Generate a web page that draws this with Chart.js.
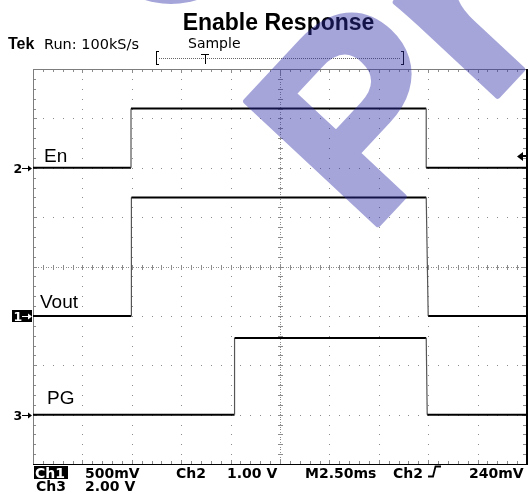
<!DOCTYPE html>
<html>
<head>
<meta charset="utf-8">
<title>Enable Response</title>
<script src="https://cdn.jsdelivr.net/npm/chart.js@4"></script>
<style>
  body { margin: 0; background: #fff; }
  canvas { display: block; }
</style>
</head>
<body>
<canvas id="scope" width="531" height="494"></canvas>
<script>
// traces: time in ms, level in volts
const enTimes   = [0, 4.96, 4.96, 19.9, 19.9, 25];
const enVolts   = [0, 0, 1.2, 1.2, 0, 0];
const voutTimes = [0, 4.98, 4.98, 19.9, 20.0, 25];
const voutVolts = [0, 0, 1.2, 1.2, 0, 0];
const pgTimes   = [0, 10.2, 10.2, 19.9, 19.95, 25];
const pgVolts   = [0, 0, 3.1, 3.1, 0, 0];

// channel setup: Ch1 = Vout, Ch2 = En, Ch3 = PG
const channels    = ['Ch1', 'Ch2', 'Ch3'];
const voltsPerDiv = [0.5, 1.0, 2.0];
const groundDiv   = [-1, 2, -3];      // ground marker, divisions from centre
const traceNames  = ['Vout', 'En', 'PG'];
const trigLevel   = 0.24;             // V on Ch2

const msPerDiv = 2.5;
const xDivs = 10, yDivs = 8;

// readout texts
const titleText  = 'Enable Response';
const runText    = 'Run: 100kS/s';
const acqText    = 'Sample';
const readoutRow1 = ['500mV', 'Ch2', '1.00 V', 'M2.50ms', 'Ch2', '240mV'];
const readoutRow2 = ['2.00 V'];

const SCOPE_FONT = '"DejaVu Sans"';
const SANS = '"Liberation Sans", Arial';

function chAxis(i) {
  return {
    axis: 'y', display: false,
    min: (-yDivs / 2 - groundDiv[i]) * voltsPerDiv[i],
    max: (yDivs / 2 - groundDiv[i]) * voltsPerDiv[i]
  };
}

function trace(times, volts, axisId) {
  return {
    data: times.map((t, i) => ({ x: t, y: volts[i] })),
    yAxisID: axisId,
    borderColor: '#000',
    borderWidth: 2,
    pointRadius: 0,
    tension: 0,
    segment: {
      // fast edges show up thin and grey on the scope
      borderColor: c => Math.abs(c.p1.parsed.x - c.p0.parsed.x) < 0.2 ? '#555' : undefined,
      borderWidth: c => Math.abs(c.p1.parsed.x - c.p0.parsed.x) < 0.2 ? 1.2 : undefined
    }
  };
}

const graticule = {
  id: 'graticule',
  beforeDatasetsDraw(chart) {
    const { ctx, chartArea: a, scales } = chart;
    const x = scales.x, d = scales.div;
    const px = t => Math.round(x.getPixelForValue(t));
    const py = v => Math.round(d.getPixelForValue(v));
    ctx.save();
    ctx.fillStyle = '#8c8c8c';
    const minorX = [], minorY = [];
    for (let j = 0; j <= xDivs * 5; j++) minorX.push(px(j * msPerDiv / 5));
    for (let j = 0; j <= yDivs * 5; j++) minorY.push(py(-yDivs / 2 + j / 5));

    // dotted major lines
    for (let k = 1; k < xDivs; k++) {
      if (k === xDivs / 2) continue;
      const gx = px(k * msPerDiv);
      minorY.slice(1, -1).forEach(yy => ctx.fillRect(gx, yy, 1, 1));
    }
    for (let k = 1; k < yDivs; k++) {
      if (k === yDivs / 2) continue;
      const gy = py(-yDivs / 2 + k);
      minorX.slice(1, -1).forEach(xx => ctx.fillRect(xx, gy, 1, 1));
    }

    // centre cross with ticks
    const cx = px(xDivs / 2 * msPerDiv), cy = py(0);
    for (let yy = a.top; yy < a.bottom; yy += 2.5) ctx.fillRect(cx, Math.round(yy), 1, 1);
    for (let xx = a.left; xx < a.right; xx += 2.5) ctx.fillRect(Math.round(xx), cy, 1, 1);
    minorY.forEach(yy => ctx.fillRect(cx - 2, yy, 5, 1));
    minorX.forEach(xx => ctx.fillRect(xx, cy - 2, 1, 5));

    // border ticks
    minorX.forEach((xx, j) => {
      const len = j % 5 === 0 ? 4 : 3;
      ctx.fillRect(xx, a.top, 1, len);
      ctx.fillRect(xx, a.bottom - len, 1, len);
    });
    minorY.forEach((yy, j) => {
      const len = j % 5 === 0 ? 4 : 3;
      ctx.fillRect(a.left, yy, len, 1);
      ctx.fillRect(a.right - len - 1, yy, len, 1);
    });
    ctx.fillRect(cx, a.top, 1, 7);

    // frame
    ctx.fillStyle = '#7d7d7d';
    ctx.fillRect(a.left, a.top, a.right - a.left, 1);
    ctx.fillRect(a.left, a.top, 1, a.bottom - a.top);
    ctx.fillStyle = '#000';
    ctx.fillRect(a.left, a.bottom, a.right - a.left + 1, 1);
    ctx.fillRect(a.right - 1, a.top, 2, a.bottom - a.top + 1);
    ctx.restore();
  }
};

const readouts = {
  id: 'readouts',
  afterDatasetsDraw(chart) {
    const { ctx, scales } = chart;
    ctx.save();
    ctx.fillStyle = '#000';
    ctx.strokeStyle = '#000';
    ctx.textBaseline = 'alphabetic';

    // title and header
    ctx.font = 'bold 23px ' + SANS;
    ctx.textAlign = 'center';
    ctx.fillText(titleText, 278.5, 30);
    ctx.textAlign = 'left';
    ctx.font = 'bold 16px ' + SANS;
    ctx.fillText('Tek', 8, 49);
    ctx.font = '14.5px ' + SCOPE_FONT;
    ctx.fillText(runText, 44, 49);
    ctx.font = '14px ' + SCOPE_FONT;
    ctx.fillText(acqText, 188, 48);

    // record bracket with trigger marker
    ctx.fillRect(156, 51, 1, 14);
    ctx.fillRect(156, 51, 3, 1);
    ctx.fillRect(156, 64, 3, 1);
    ctx.fillRect(403, 51, 1, 14);
    ctx.fillRect(401, 51, 3, 1);
    ctx.fillRect(401, 64, 3, 1);
    ctx.fillStyle = '#666';
    for (let xx = 159; xx < 401; xx += 2) ctx.fillRect(xx, 58, 1, 1);
    ctx.fillStyle = '#000';
    ctx.fillRect(201, 54, 8, 1);
    ctx.fillRect(205, 54, 1, 10);

    // trace names and ground markers
    const gp = i => Math.round(scales['ch' + (i + 1)].getPixelForValue(0));
    const nameX = [40, 44, 47], nameDy = [-8, -6, -11];
    ctx.font = '19px ' + SANS;
    traceNames.forEach((n, i) => ctx.fillText(n, nameX[i], gp(i) + nameDy[i]));

    ctx.font = 'bold 12.5px ' + SCOPE_FONT;
    channels.forEach((ch, i) => {
      const y = gp(i);
      const label = ch.slice(2);
      let fg = '#000';
      if (i === 0) {
        ctx.fillStyle = '#000';
        ctx.fillRect(12, y - 6, 20, 12);
        fg = '#fff';
      }
      ctx.fillStyle = fg;
      ctx.fillText(label, 13.5, y + 5);
      ctx.fillRect(22, y, 8, 1);
      ctx.beginPath();
      ctx.moveTo(32, y + 0.5);
      ctx.lineTo(28, y - 2.5);
      ctx.lineTo(28, y + 3.5);
      ctx.closePath();
      ctx.fill();
    });

    // trigger level arrow on the right edge
    ctx.fillStyle = '#000';
    const ty = Math.round(scales.ch2.getPixelForValue(trigLevel));
    ctx.beginPath();
    ctx.moveTo(517, ty + 0.5);
    ctx.lineTo(523, ty - 4);
    ctx.lineTo(523, ty + 5);
    ctx.closePath();
    ctx.fill();
    ctx.fillRect(523, ty - 1, 4, 2);

    // bottom readout
    ctx.font = 'bold 14px ' + SCOPE_FONT;
    ctx.fillRect(34, 466, 34, 13);
    ctx.fillStyle = '#fff';
    ctx.fillText(channels[0], 35, 477.5);
    ctx.fillStyle = '#000';
    const row1X = [85, 176, 227, 305, 393, 469];
    readoutRow1.forEach((s, i) => ctx.fillText(s, row1X[i], 477.5));
    ctx.fillText(channels[2], 36, 490.5);
    ctx.fillText(readoutRow2[0], 85, 490.5);

    // rising edge symbol
    ctx.lineWidth = 1.8;
    ctx.beginPath();
    ctx.moveTo(428, 476.5);
    ctx.lineTo(433, 476.5);
    ctx.lineTo(435.5, 466.5);
    ctx.lineTo(441, 466.5);
    ctx.stroke();
    ctx.restore();
  }
};

const watermark = {
  id: 'watermark',
  afterDraw(chart) {
    const ctx = chart.ctx;
    // paint the stamp opaque off screen, then lay it on with one alpha
    const off = document.createElement('canvas');
    off.width = chart.width;
    off.height = chart.height;
    const o = off.getContext('2d');
    o.fillStyle = o.strokeStyle = 'rgb(47,47,170)';
    o.save();
    o.translate(366, 237);
    o.rotate(-47 * Math.PI / 180);
    o.font = 'bold 262px ' + SANS;
    o.lineWidth = 6;
    o.lineJoin = 'round';
    o.fillText('Pr', 0, 0);
    o.strokeText('Pr', 0, 0);
    o.restore();
    o.beginPath();
    o.arc(171, -82.5, 86.5, 0, Math.PI * 2);
    o.fill();
    ctx.save();
    ctx.globalAlpha = 0.43;
    ctx.drawImage(off, 0, 0);
    ctx.restore();
  }
};

new Chart(document.getElementById('scope'), {
  type: 'line',
  data: {
    datasets: [
      trace(voutTimes, voutVolts, 'ch1'),
      trace(enTimes, enVolts, 'ch2'),
      trace(pgTimes, pgVolts, 'ch3')
    ]
  },
  options: {
    responsive: false,
    animation: false,
    devicePixelRatio: 1,
    layout: { padding: { left: 33, right: 4, top: 69, bottom: 30 } },
    scales: {
      x: { type: 'linear', display: false, min: 0, max: xDivs * msPerDiv },
      div: { axis: 'y', display: false, min: -yDivs / 2, max: yDivs / 2 },
      ch1: chAxis(0),
      ch2: chAxis(1),
      ch3: chAxis(2)
    },
    plugins: { legend: { display: false }, tooltip: { enabled: false } }
  },
  plugins: [graticule, readouts, watermark]
});
</script>
</body>
</html>
